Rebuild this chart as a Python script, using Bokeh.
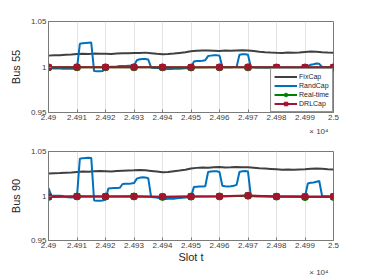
from bokeh.plotting import figure
from bokeh.layouts import column
from bokeh.models import FixedTicker, Range1d, Legend, LegendItem, Title
from bokeh.embed import file_html
from bokeh.resources import INLINE

# ---------------- data ----------------
t_fine = list(range(24900, 25001))          # slot index, step 1
t_fix = list(range(24900, 25001, 2))        # step 2
t_mark = list(range(24900, 25001, 10))      # marker slots

x_ticks = [24900, 24910, 24920, 24930, 24940, 24950, 24960, 24970, 24980, 24990, 25000]
x_tick_labels = ["2.49", "2.491", "2.492", "2.493", "2.494", "2.495", "2.496", "2.497", "2.498", "2.499", "2.5"]
x_exponent = "\u00d7 10\u2074"
y_ticks = [0.95, 1.0, 1.05]
y_tick_labels = ["0.95", "1", "1.05"]

series_names = ["FixCap", "RandCap", "Real-time", "DRLCap"]

fix55 = [1.0125, 1.0128, 1.0130, 1.0135, 1.0138, 1.0142, 1.0145, 1.0143, 1.0147, 1.0145,
         1.0146, 1.0144, 1.0148, 1.0150, 1.0152, 1.0155, 1.0153, 1.0158, 1.0152, 1.0145,
         1.0140, 1.0142, 1.0148, 1.0155, 1.0162, 1.0172, 1.0178, 1.0182, 1.0180, 1.0178,
         1.0176, 1.0180, 1.0178, 1.0182, 1.0185, 1.0182, 1.0175, 1.0168, 1.0162, 1.0158,
         1.0156, 1.0155, 1.0158, 1.0156, 1.0160, 1.0165, 1.0170, 1.0168, 1.0162, 1.0158,
         1.0156]
rand55 = [0.9985, 0.9985, 0.9984, 0.9983, 0.9983, 0.9982, 0.9982, 0.9982, 0.9981, 0.9982,
          0.9985, 1.0255, 1.0262, 1.0264, 1.0266, 1.0268, 0.9955, 0.9952, 0.9953, 0.9955,
          0.9985, 1.0001, 1.0002, 1.0003, 1.0005, 1.0010, 1.0012, 1.0012, 1.0013, 1.0014,
          1.0015, 1.0075, 1.0085, 1.0088, 1.0088, 1.0082, 0.9995, 0.9990, 0.9988, 0.9985,
          0.9978, 0.9975, 0.9980, 0.9978, 0.9982, 0.9980, 0.9982, 0.9983, 0.9985, 0.9985,
          0.9990, 1.0060, 1.0065, 1.0065, 1.0068, 1.0075, 1.0120, 1.0125, 1.0128, 1.0128,
          1.0125, 1.0000, 0.9998, 0.9998, 0.9998, 0.9999, 1.0000, 1.0135, 1.0140, 1.0140,
          1.0135, 0.9998, 0.9996, 0.9995, 0.9994, 0.9995, 0.9994, 0.9995, 0.9994, 0.9995,
          0.9994, 0.9993, 0.9994, 0.9995, 0.9994, 0.9995, 0.9994, 0.9993, 0.9994, 0.9995,
          0.9995, 1.0010, 1.0025, 1.0030, 1.0038, 1.0035, 1.0000, 0.9997, 0.9996, 0.9995,
          0.9995]
rt55 = [0.9996, 0.9997, 0.9996, 0.9997, 0.9996, 0.9995, 0.9996, 0.9996, 0.9995, 0.9995, 0.9996]
drl55 = [0.9997, 0.9998, 0.9997, 0.9998, 0.9997, 0.9997, 0.9997, 0.9998, 0.9997, 0.9997, 0.9997]

fix90 = [1.0252, 1.0255, 1.0258, 1.0262, 1.0265, 1.0270, 1.0275, 1.0272, 1.0278, 1.0280,
         1.0278, 1.0276, 1.0280, 1.0284, 1.0286, 1.0288, 1.0292, 1.0288, 1.0282, 1.0275,
         1.0268, 1.0270, 1.0278, 1.0286, 1.0295, 1.0310, 1.0316, 1.0320, 1.0318, 1.0322,
         1.0325, 1.0320, 1.0322, 1.0326, 1.0324, 1.0322, 1.0318, 1.0312, 1.0308, 1.0304,
         1.0300, 1.0296, 1.0298, 1.0295, 1.0298, 1.0300, 1.0305, 1.0308, 1.0305, 1.0300,
         1.0298]
rand90 = [1.0090, 1.0005, 1.0003, 1.0002, 1.0002, 1.0000, 0.9990, 0.9985, 0.9984, 0.9986,
          0.9995, 1.0420, 1.0425, 1.0428, 1.0430, 1.0428, 0.9950, 0.9948, 0.9947, 0.9950,
          0.9960, 1.0085, 1.0088, 1.0090, 1.0090, 1.0092, 1.0135, 1.0138, 1.0138, 1.0140,
          1.0145, 1.0195, 1.0205, 1.0210, 1.0208, 1.0200, 0.9990, 0.9986, 0.9983, 0.9975,
          0.9968, 0.9965, 0.9970, 0.9972, 0.9970, 0.9975, 0.9978, 0.9980, 0.9982, 0.9985,
          0.9990, 1.0100, 1.0105, 1.0108, 1.0108, 1.0110, 1.0270, 1.0275, 1.0278, 1.0278,
          1.0270, 1.0115, 1.0110, 1.0108, 1.0110, 1.0115, 1.0125, 1.0270, 1.0278, 1.0280,
          1.0275, 0.9998, 0.9996, 0.9995, 0.9994, 0.9995, 0.9994, 0.9993, 0.9994, 0.9995,
          0.9994, 0.9993, 0.9994, 0.9995, 0.9994, 0.9995, 0.9994, 0.9993, 0.9994, 0.9995,
          0.9995, 1.0140, 1.0148, 1.0152, 1.0160, 1.0168, 1.0000, 0.9997, 0.9996, 0.9995,
          0.9995]
rt90 = [0.9990, 0.9995, 0.9993, 0.9995, 0.9990, 0.9993, 0.9995, 1.0003, 0.9993, 0.9988, 0.9990]
drl90 = [0.9992, 0.9997, 0.9995, 0.9997, 0.9992, 0.9995, 0.9997, 1.0005, 0.9995, 0.9993, 0.9995]

# ---------------- style ----------------
FONT = "Liberation Sans"
C_FIX = "#404040"
C_RAND = "#0072BD"
C_RT = "#008000"
C_DRL = "#A2142F"
C_AX = "#7a7a7a"


def make_panel(ylabel, fix, rand, rt, drl, height, btop, bbottom, exp_standoff, xlabel=None, legend=False):
    p = figure(width=368, height=height, output_backend="svg", toolbar_location=None,
               x_range=Range1d(24900, 25000), y_range=Range1d(0.95, 1.05),
               min_border_left=48, min_border_right=35,
               min_border_top=btop, min_border_bottom=bbottom)
    p.background_fill_color = "white"
    p.border_fill_color = "white"
    p.outline_line_color = C_AX
    p.outline_line_width = 1

    r_fix = p.line(t_fix, fix, line_color=C_FIX, line_width=2)
    r_rand = p.line(t_fine, rand, line_color=C_RAND, line_width=2)
    r_rt_l = p.line(t_mark, rt, line_color=C_RT, line_width=2)
    r_rt_m = p.scatter(t_mark, rt, marker="circle", size=7, fill_color=C_RT, line_color=C_RT)
    r_drl_l = p.line(t_mark, drl, line_color=C_DRL, line_width=2)
    r_drl_m = p.scatter(t_mark, drl, marker="square", size=5.5, fill_color=C_DRL, line_color=C_DRL)

    for ax in (p.xaxis[0], p.yaxis[0]):
        ax.axis_line_color = C_AX
        ax.major_tick_line_color = C_AX
        ax.major_tick_in = 3
        ax.major_tick_out = 0
        ax.minor_tick_line_color = None
        ax.major_label_text_font = FONT
        ax.major_label_text_font_size = "8px"
        ax.major_label_text_color = "#404040"
        ax.axis_label_text_font = FONT
        ax.axis_label_text_font_size = "11px"
        ax.axis_label_text_font_style = "normal"
        ax.axis_label_text_color = "#262626"
        ax.major_label_standoff = 2

    p.xaxis.ticker = FixedTicker(ticks=x_ticks)
    p.xaxis.major_label_overrides = {k: v for k, v in zip(x_ticks, x_tick_labels)}
    p.yaxis.ticker = FixedTicker(ticks=y_ticks)
    p.yaxis.major_label_overrides = {k: v for k, v in zip(y_ticks, y_tick_labels)}
    p.yaxis.axis_label = ylabel
    p.yaxis.axis_label_standoff = 6
    if xlabel:
        p.xaxis.axis_label = xlabel
        p.xaxis.axis_label_standoff = 0

    p.xgrid.grid_line_color = "#e3e3e3"
    p.ygrid.grid_line_color = "#e3e3e3"

    p.add_layout(Title(text=x_exponent, align="right", offset=5, standoff=exp_standoff,
                       text_font=FONT, text_font_size="8px", text_font_style="normal",
                       text_color="#404040"), "below")

    if legend:
        items = [LegendItem(label=series_names[0], renderers=[r_fix]),
                 LegendItem(label=series_names[1], renderers=[r_rand]),
                 LegendItem(label=series_names[2], renderers=[r_rt_l, r_rt_m]),
                 LegendItem(label=series_names[3], renderers=[r_drl_l, r_drl_m])]
        lg = Legend(items=items, location="bottom_right", margin=0, padding=3,
                    spacing=0, glyph_width=23, glyph_height=9, label_height=9,
                    label_standoff=2, label_text_font=FONT, label_text_font_size="7px",
                    label_text_color="#262626", border_line_color="#262626",
                    border_line_width=1, background_fill_color="white",
                    background_fill_alpha=1)
        p.add_layout(lg)
    return p


p1 = make_panel("Bus 55", fix55, rand55, rt55, drl55, 140, 21, 28, 5, legend=True)
p2 = make_panel("Bus 90", fix90, rand90, rt90, drl90, 136, 11, 33, 0, xlabel="Slot t")

layout = column(p1, p2, spacing=0)
open("out.html", "w").write(file_html(layout, INLINE))
